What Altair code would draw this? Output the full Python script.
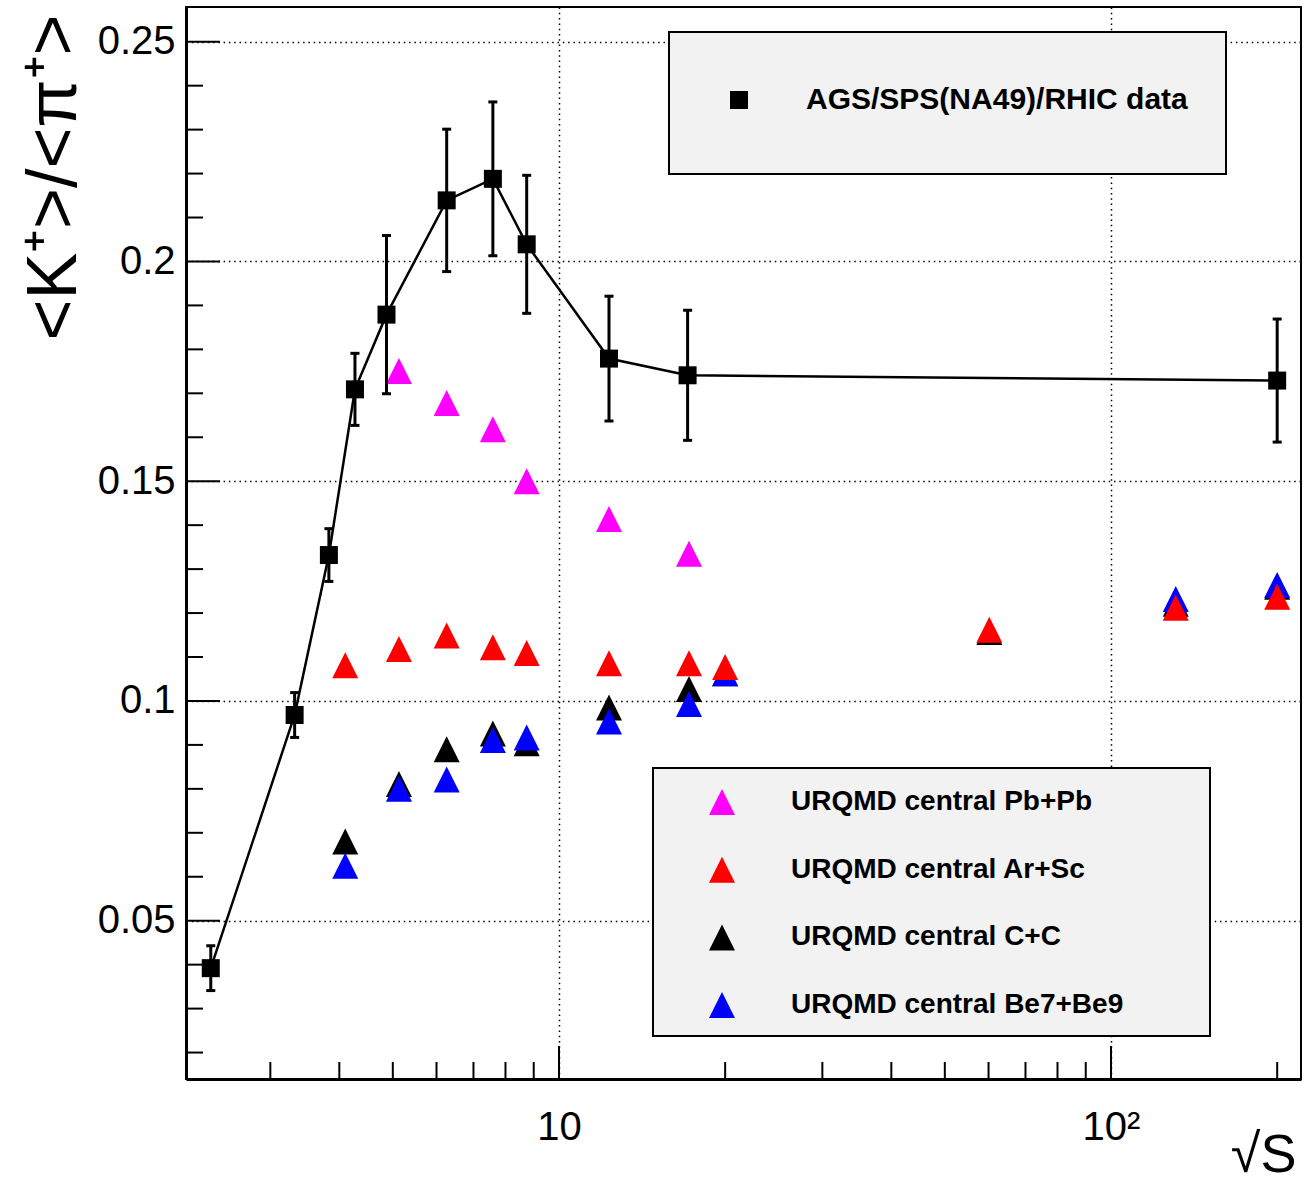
import altair as alt
import pandas as pd

# ---------------- data ----------------
ags_x = [2.34, 3.32, 3.83, 4.27, 4.87, 6.26, 7.59, 8.74, 12.32, 17.1, 200.0]
ags_y = [0.0392, 0.0968, 0.1332, 0.1709, 0.1879, 0.2139, 0.2188, 0.2039, 0.1779, 0.1741, 0.1729]
ags_err = [0.0051, 0.0051, 0.0060, 0.0082, 0.0180, 0.0162, 0.0175, 0.0157, 0.0142, 0.0148, 0.0140]
ags_label = "AGS/SPS(NA49)/RHIC data"

pb_x = [5.13, 6.26, 7.59, 8.74, 12.32, 17.2]
pb_y = [0.1751, 0.1678, 0.1618, 0.1500, 0.1414, 0.1335]

ar_x = [4.10, 5.13, 6.26, 7.59, 8.74, 12.32, 17.2, 20.0, 60.2, 131.0, 200.0]
ar_y = [0.1081, 0.1118, 0.1149, 0.1122, 0.1109, 0.1086, 0.1086, 0.1077, 0.1162, 0.1212, 0.1237]

cc_x = [4.10, 5.13, 6.26, 7.59, 8.74, 12.32, 17.2, 20.0, 60.2, 131.0, 200.0]
cc_y = [0.0680, 0.0811, 0.0890, 0.0926, 0.0904, 0.0985, 0.1027, 0.1063, 0.1157, 0.1221, 0.1260]

be_x = [4.10, 5.13, 6.26, 7.59, 8.74, 12.32, 17.2, 20.0, 131.0, 200.0]
be_y = [0.0625, 0.0800, 0.0821, 0.0911, 0.0917, 0.0953, 0.0993, 0.1063, 0.1232, 0.1264]

series_names = ["URQMD central Pb+Pb", "URQMD central Ar+Sc",
                "URQMD central C+C", "URQMD central Be7+Be9"]
series_colors = ["#ff00ff", "#ff0000", "#000000", "#0000ff"]
draw_rank = [0, 3, 1, 2]  # red drawn on top, then blue over black

x_major = [10, 100]
x_minor = [3, 4, 5, 6, 7, 8, 9, 20, 30, 40, 50, 60, 70, 80, 90, 200]
y_major = [0.05, 0.1, 0.15, 0.2, 0.25]
y_minor = [0.02, 0.03, 0.04, 0.06, 0.07, 0.08, 0.09, 0.11, 0.12, 0.13, 0.14,
           0.16, 0.17, 0.18, 0.19, 0.21, 0.22, 0.23, 0.24]

# ---------------- tables ----------------
ags = pd.DataFrame({"s": ags_x, "r": ags_y, "lo": [a - e for a, e in zip(ags_y, ags_err)],
                    "hi": [a + e for a, e in zip(ags_y, ags_err)], "lab": [ags_label] * len(ags_x)})
rows = []
for name, xs, ys, rk in zip(series_names, [pb_x, ar_x, cc_x, be_x], [pb_y, ar_y, cc_y, be_y], draw_rank):
    for a, b in zip(xs, ys):
        rows.append({"s": a, "r": b, "series": name, "z": rk})
urq = pd.DataFrame(rows)

W, H = 1115, 1072
FONT = "Liberation Sans"
TRI = "M0,-1L1,1L-1,1Z"

xscale = alt.Scale(type="log", domain=[2.1103, 220.9], nice=False)
yscale = alt.Scale(domain=[0.01398, 0.2579], nice=False, zero=False)

x_axis = alt.Axis(values=x_major, labelExpr="datum.value == 100 ? '10\u00b2' : '10'",
                  grid=True, gridDash=[1.5, 3.8], gridColor="black", gridWidth=1.5, gridOpacity=1,
                  ticks=False, domainColor="black", domainWidth=3,
                  labelFont=FONT, labelFontSize=40, labelColor="black", labelPadding=28,
                  labelFlush=False, labelOverlap=False,
                  title="\u221aS", titleFont=FONT, titleFontSize=54, titleFontWeight="normal",
                  titleColor="black", titleX=1110, titleY=92, titleAlign="right",
                  titleBaseline="alphabetic")
y_axis = alt.Axis(values=y_major, labelExpr="'' + datum.value",
                  grid=True, gridDash=[1.5, 3.8], gridColor="black",
                  gridWidth=1.5, gridOpacity=1, ticks=False, domainColor="black", domainWidth=3,
                  labelFont=FONT, labelFontSize=40, labelColor="black", labelPadding=11,
                  labelFlush=False, labelOverlap=False,
                  title="<K\u207a>/<\u03c0\u207a>", titleFont=FONT, titleFontSize=70,
                  titleFontWeight="normal", titleColor="black", titleAngle=270,
                  titleX=-111, titleY=170, titleAlign="center", titleBaseline="alphabetic")

X = alt.X("s:Q", scale=xscale, axis=x_axis)
Y = alt.Y("r:Q", scale=yscale, axis=y_axis)

# ---------------- custom inward ticks ----------------
def yticks(vals, length):
    return alt.Chart(pd.DataFrame({"r": vals})).mark_rule(color="black", strokeWidth=2).encode(
        y=Y, x=alt.value(0), x2=alt.value(length))

def xticks(vals, length):
    return alt.Chart(pd.DataFrame({"s": vals})).mark_rule(color="black", strokeWidth=2).encode(
        x=X, y=alt.value(H), y2=alt.value(H - length))

# ---------------- legend boxes ----------------
box1 = alt.Chart(pd.DataFrame({"b": [1]})).mark_rect(fill="#f2f2f2", stroke="black", strokeWidth=2).encode(
    x=alt.value(483), x2=alt.value(1040), y=alt.value(25), y2=alt.value(167))
box2 = alt.Chart(pd.DataFrame({"b": [2]})).mark_rect(fill="#f2f2f2", stroke="black", strokeWidth=2).encode(
    x=alt.value(467), x2=alt.value(1024), y=alt.value(761), y2=alt.value(1029))

# ---------------- data layers ----------------
base = alt.Chart(ags)
line = base.mark_line(color="black", strokeWidth=2.5).encode(x=X, y=Y)
err = base.mark_rule(color="black", strokeWidth=3).encode(
    x=X, y=alt.Y("lo:Q", scale=yscale, axis=y_axis), y2="hi:Q")
cap_lo = base.mark_tick(color="black", orient="horizontal", size=9, thickness=3, opacity=1).encode(
    x=X, y=alt.Y("lo:Q", scale=yscale, axis=y_axis))
cap_hi = base.mark_tick(color="black", orient="horizontal", size=9, thickness=3, opacity=1).encode(
    x=X, y=alt.Y("hi:Q", scale=yscale, axis=y_axis))
squares = base.mark_point(filled=True, size=324, opacity=1, color="black", strokeWidth=0).encode(
    x=X, y=Y,
    shape=alt.Shape("lab:N", scale=alt.Scale(domain=[ags_label], range=["square"]),
                    legend=alt.Legend(orient="none", legendX=538, legendY=78, title=None,
                                      symbolSize=324, symbolFillColor="black",
                                      symbolStrokeWidth=0, symbolOpacity=1, labelOffset=52,
                                      labelFont=FONT, labelFontSize=30, labelFontWeight="bold",
                                      labelColor="black", labelLimit=800, padding=0)))

tri = alt.Chart(urq).mark_point(filled=True, size=676, opacity=1, shape=TRI, strokeWidth=0).encode(
    x=X, y=Y,
    color=alt.Color("series:N", scale=alt.Scale(domain=series_names, range=series_colors),
                    legend=alt.Legend(orient="none", legendX=522, legendY=781, title=None,
                                      symbolType=TRI, symbolSize=676, symbolStrokeWidth=0,
                                      symbolOpacity=1, labelOffset=55, rowPadding=39.7,
                                      labelFont=FONT, labelFontSize=28, labelFontWeight="bold",
                                      labelColor="black", labelLimit=800, padding=0)),
    order=alt.Order("z:Q"))

chart = alt.layer(
    box1, box2,
    yticks(y_minor, 17), yticks(y_major, 34), xticks(x_minor, 17), xticks(x_major, 33),
    tri, line, err, cap_lo, cap_hi, squares
).properties(
    width=W, height=H,
    autosize=alt.AutoSizeParams(type="none"),
    padding={"left": 186, "top": 7, "right": 4, "bottom": 103},
    background="white"
).configure_view(stroke="black", strokeWidth=2)

chart.save("out.html", embed_options={"renderer": "svg", "actions": False})
